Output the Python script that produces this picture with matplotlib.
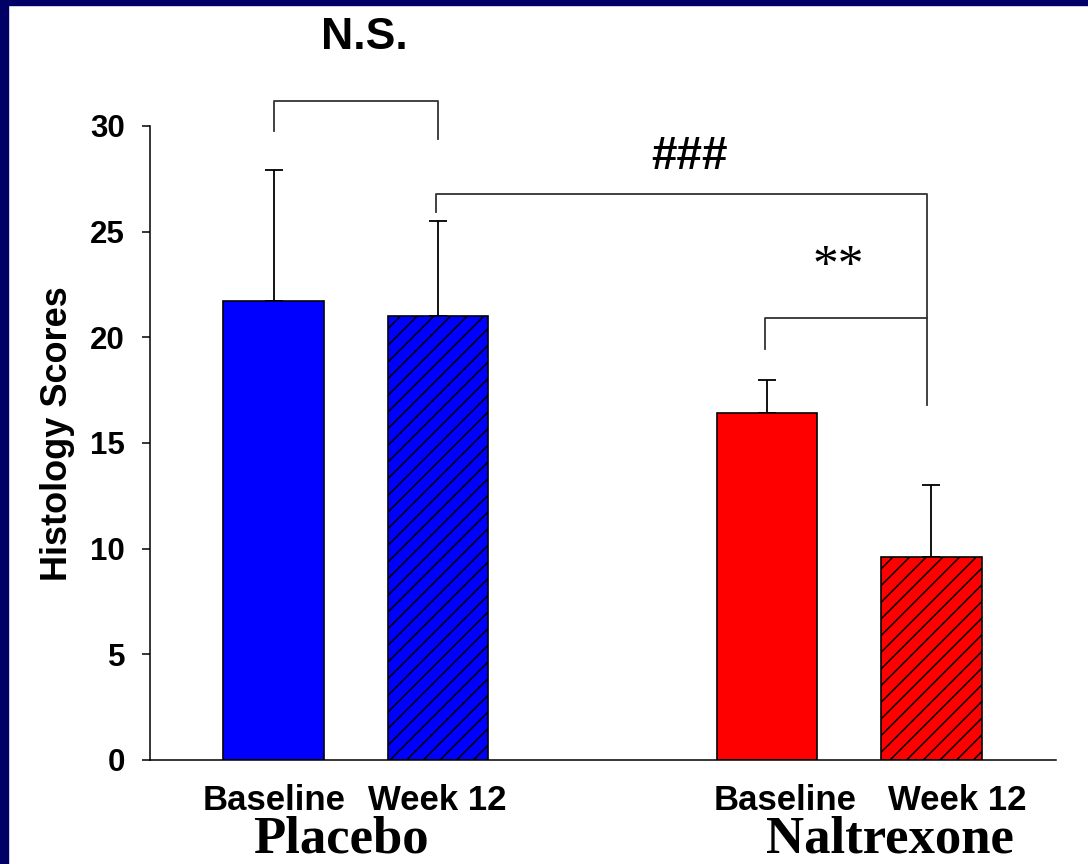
import matplotlib.pyplot as plt
from matplotlib.patches import Rectangle

# data
groups = ['Placebo', 'Naltrexone']
timepoints = ['Baseline', 'Week 12']
means = [21.7, 21.0, 16.4, 9.6]
errors = [6.2, 4.5, 1.6, 3.4]
colors = ['#0000ff', '#0000ff', '#ff0000', '#ff0000']
hatches = ['', '//', '', '//']
positions = [0, 1, 3, 4]

plt.rcParams['font.family'] = ['Liberation Sans', 'DejaVu Sans']
plt.rcParams['hatch.linewidth'] = 1.1
plt.rcParams['hatch.color'] = 'black'
serif = ['Liberation Serif', 'DejaVu Serif']

fig = plt.figure(figsize=(10.88, 8.64), dpi=100)
ax = fig.add_axes([0.1379, 0.1204, 0.8327, 0.7338])

ax.bar(positions, means, width=0.61, color=colors, hatch=hatches,
       edgecolor='black', linewidth=1.2, zorder=2)
ax.errorbar(positions, means, yerr=[[0] * 4, errors], fmt='none',
            ecolor='black', elinewidth=1.3, capsize=6.5, capthick=1.3,
            zorder=1)

ax.set_xlim(-0.751, 4.757)
ax.set_ylim(0, 30)
ax.set_yticks(range(0, 31, 5))
ax.set_xticks([])
ax.spines['top'].set_visible(False)
ax.spines['right'].set_visible(False)
ax.spines['left'].set_linewidth(1.1)
ax.spines['bottom'].set_linewidth(1.1)
ax.tick_params(axis='y', direction='out', length=6, width=1.1, pad=12,
               labelsize=22.5)
for lab in ax.get_yticklabels():
    lab.set_fontweight('bold')
ax.set_ylabel('Histology Scores', fontsize=26, fontweight='bold')
ax.yaxis.set_label_coords(-0.083, 0.514)

# category labels under the bars
label_x = [0.003, 0.997, 3.11, 4.158]
for x, name in zip(label_x, timepoints * 2):
    ax.text(x, -1.91, name, ha='center', va='center', fontsize=25,
            fontweight='bold')
group_x = [0.407, 3.745]
for x, name in zip(group_x, groups):
    ax.text(x, -3.74, name, ha='center', va='center', fontsize=38,
            fontweight='bold', family=serif)

# significance brackets
lc = '#333333'
ax.plot([0, 0, 1, 1], [29.75, 31.2, 31.2, 29.4], color=lc, lw=1.3,
        clip_on=False)
ax.text(0.553, 34.2, 'N.S.', ha='center', va='center', fontsize=32,
        fontweight='bold')
ax.plot([0.99, 0.99, 3.97, 3.97], [25.95, 26.8, 26.8, 16.8], color=lc,
        lw=1.3, clip_on=False)
ax.text(2.53, 28.55, '###', ha='center', va='center', fontsize=33,
        fontweight='bold')
ax.plot([2.99, 2.99, 3.97], [19.45, 20.92, 20.92], color=lc, lw=1.3,
        clip_on=False)
ax.text(3.43, 23.33, '**', ha='center', va='center', fontsize=37,
        family=serif)

# navy frame on top and left edges
fig.add_artist(Rectangle((0, 0), 8 / 1088, 1, transform=fig.transFigure,
                         color='#000066', zorder=10))
fig.add_artist(Rectangle((0, 1 - 5 / 864), 1, 5 / 864,
                         transform=fig.transFigure, color='#000066',
                         zorder=10))

fig.savefig('out.png', dpi=100)
